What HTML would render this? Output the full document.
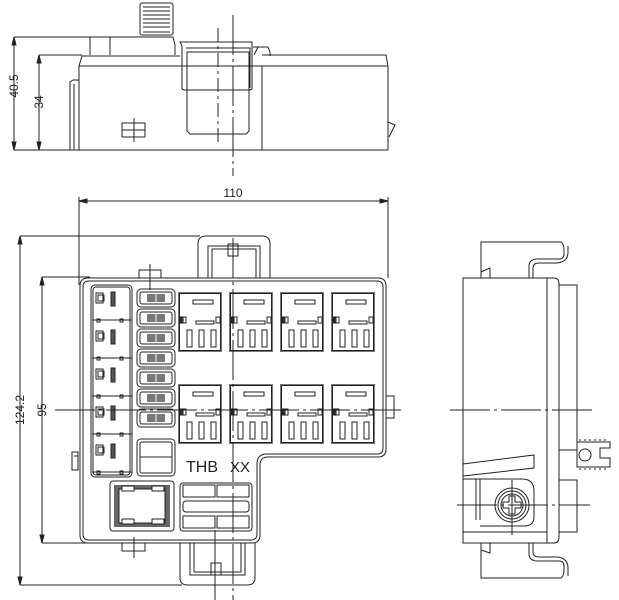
<!DOCTYPE html>
<html><head><meta charset="utf-8"><style>
html,body{margin:0;padding:0;background:#fff;width:619px;height:600px;overflow:hidden}
svg{display:block}
text{font-family:"Liberation Sans Narrow","Liberation Sans",sans-serif;fill:#222}
</style></head><body>
<svg width="619" height="600" viewBox="0 0 619 600" xmlns="http://www.w3.org/2000/svg">
<defs>
<g id="relay" fill="none" stroke="#222" stroke-width="1">
 <rect x="0" y="0" width="44" height="60" fill="#777" stroke="none"/>
 <rect x="1.5" y="1.5" width="41" height="57" fill="#fff"/>
 <rect x="15" y="8" width="20" height="4"/>
 <rect x="18" y="29" width="18" height="3"/>
 <rect x="2" y="25" width="6" height="6"/><rect x="3" y="26" width="2" height="4" fill="#444"/>
 <rect x="38" y="25" width="4" height="6"/>
 <rect x="9" y="38" width="5" height="17"/>
 <rect x="21" y="38" width="5" height="17"/>
 <rect x="33" y="38" width="5" height="17"/>
</g>
<g id="fuse" fill="none" stroke="#222" stroke-width="1">
 <rect x="0" y="0" width="38" height="18" rx="4"/>
 <rect x="3" y="3" width="32" height="12" rx="2"/>
 <rect x="10" y="5" width="18" height="8" fill="#777" stroke="none"/>
 <line x1="19" y1="4" x2="19" y2="14" stroke="#fff"/>
</g>
<g id="cell" fill="none" stroke="#222" stroke-width="1">
 <rect x="4" y="6" width="7" height="10"/><rect x="6" y="8" width="6" height="6"/>
 <rect x="19" y="5" width="4" height="14" fill="#555"/>
 <line x1="0" y1="33" x2="40" y2="33"/>
 <rect x="5" y="32" width="3" height="3"/><rect x="28" y="32" width="3" height="3"/>
</g>
</defs>
<g fill="none" stroke="#222" stroke-width="1">
<line x1="14" y1="37" x2="140" y2="37"/>
<line x1="14" y1="37" x2="14" y2="150"/>
<line x1="39" y1="55" x2="82" y2="55"/>
<line x1="39" y1="55" x2="39" y2="150"/>
<line x1="14" y1="150" x2="388" y2="150"/>
<path d="M14,37 l-2,8 h4 z M14,150 l-2,-8 h4 z M39,55 l-2,8 h4 z M39,150 l-2,-8 h4 z" fill="#222"/>
<path d="M79,150 V66 L82,56 H180"/>
<path d="M262,55 H386 L388,66 V150"/>
<line x1="79" y1="66" x2="388" y2="66"/>
<path d="M70,150 V82 L73,80 H79"/><line x1="74" y1="84" x2="74" y2="150"/>
<line x1="262" y1="66" x2="262" y2="150"/>
<path d="M90,55 V37 H173 L175,45 V55"/>
<line x1="110" y1="37" x2="110" y2="55"/>
<rect x="140" y="3" width="33" height="32" rx="2"/>
<line x1="143" y1="7" x2="170" y2="7"/><line x1="143" y1="11" x2="170" y2="11"/><line x1="143" y1="15" x2="170" y2="15"/><line x1="143" y1="19" x2="170" y2="19"/><line x1="143" y1="23" x2="170" y2="23"/><line x1="143" y1="27" x2="170" y2="27"/><line x1="143" y1="32" x2="170" y2="32"/>
<path d="M182,89 V46 L180,42 H252 V89 L250,90 H184 Z"/>
<path d="M186,48 H250 V88"/>
<path d="M187,52 V131 L190,134 H246 L249,131 V52 Z"/>
<path d="M253,47 H268 L270,52 V56 M258,47 L254,55"/>
<path d="M388,122 L395,125 L389,137"/>
<rect x="122" y="123" width="23" height="14"/>
<line x1="122" y1="130" x2="145" y2="130"/>
<line x1="134" y1="118" x2="134" y2="142"/>
<line x1="218" y1="28" x2="218" y2="145" stroke-dasharray="14,4,3,4"/>
<line x1="233" y1="15" x2="233" y2="176" stroke-dasharray="40,4,3,4"/>
<line x1="79" y1="201" x2="388" y2="201"/>
<line x1="79" y1="197" x2="79" y2="285"/>
<line x1="388" y1="197" x2="388" y2="278"/>
<path d="M79,201 l8,-2 v4 z M388,201 l-8,-2 v4 z" fill="#222"/>
<line x1="20" y1="236" x2="20" y2="585"/>
<line x1="20" y1="236" x2="200" y2="236"/>
<line x1="20" y1="585" x2="182" y2="585"/>
<line x1="42" y1="277" x2="42" y2="543"/>
<line x1="42" y1="277" x2="90" y2="277"/>
<line x1="42" y1="543" x2="90" y2="543"/>
<path d="M20,236 l-2,8 h4 z M20,585 l-2,-8 h4 z M42,277 l-2,8 h4 z M42,543 l-2,-8 h4 z" fill="#222"/>
<path d="M198,278 V244 Q198,236 206,236 H262 Q270,236 270,244 V278"/>
<path d="M208,278 V246 H260 V278 M212,278 V249 H256 V278"/>
<rect x="228" y="244" width="10" height="12"/>
<path d="M180,543 V578 Q180,585 188,585 H247 Q255,585 255,578 V543"/>
<path d="M190,543 V575 H245 V543 M194,543 V572 H241 V543"/>
<rect x="211" y="563" width="10" height="12"/>
<rect x="139" y="270" width="22" height="8"/>
<rect x="122" y="543" width="23" height="8"/>
<rect x="386" y="396" width="8" height="22"/>
<path d="M72,452 H78 V470 H72 Z M74,456 H78"/>
<path d="M88,278 H378 Q386,278 386,286 V449 Q386,457 378,457 H268 Q260,457 260,465 V535 Q260,543 252,543 H88 Q80,543 80,535 V286 Q80,278 88,278 Z"/>
<path d="M89,281 H377 Q383,281 383,287 V448 Q383,454 377,454 H267 Q257,454 257,464 V534 Q257,540 251,540 H89 Q83,540 83,534 V287 Q83,281 89,281 Z"/>
<rect x="91" y="285" width="41" height="192" rx="4"/>
<rect x="93" y="287" width="37" height="188" rx="3"/>
<use href="#cell" x="92" y="287"/>
<use href="#cell" x="92" y="325"/>
<use href="#cell" x="92" y="363"/>
<use href="#cell" x="92" y="401"/>
<use href="#cell" x="92" y="439"/>
<use href="#fuse" x="137" y="289"/>
<use href="#fuse" x="137" y="309"/>
<use href="#fuse" x="137" y="329"/>
<use href="#fuse" x="137" y="349"/>
<use href="#fuse" x="137" y="369"/>
<use href="#fuse" x="137" y="389"/>
<use href="#fuse" x="137" y="409"/>
<rect x="137" y="439" width="38" height="37" rx="4"/>
<rect x="140" y="442" width="32" height="31" rx="2"/>
<line x1="140" y1="457" x2="172" y2="457"/>
<use href="#relay" x="178" y="292"/>
<use href="#relay" x="229" y="292"/>
<use href="#relay" x="280" y="292"/>
<use href="#relay" x="331" y="292"/>
<use href="#relay" x="178" y="384"/>
<use href="#relay" x="229" y="384"/>
<use href="#relay" x="280" y="384"/>
<use href="#relay" x="331" y="384"/>
<rect x="110" y="481" width="64" height="50" rx="3"/>
<rect x="114" y="485" width="56" height="42" fill="#666" stroke="none"/>
<rect x="119" y="489" width="46" height="34" fill="#fff"/>
<rect x="122" y="486" width="12" height="5" fill="#fff"/><rect x="152" y="486" width="12" height="5" fill="#fff"/>
<rect x="122" y="519" width="12" height="5" fill="#fff"/><rect x="152" y="519" width="12" height="5" fill="#fff"/>
<rect x="180" y="483" width="72" height="48" rx="3"/>
<rect x="183" y="485" width="32" height="12"/><rect x="217" y="485" width="32" height="12"/>
<rect x="183" y="501" width="66" height="11" rx="3"/>
<rect x="183" y="516" width="32" height="12"/><rect x="217" y="516" width="32" height="12"/>
<line x1="215" y1="530" x2="215" y2="600"/>
<line x1="55" y1="410" x2="405" y2="410" stroke-dasharray="40,4,3,4"/>
<line x1="233" y1="238" x2="233" y2="600" stroke-dasharray="40,4,3,4"/>
<line x1="150" y1="264" x2="150" y2="290"/>
<line x1="134" y1="537" x2="134" y2="558"/>
<rect x="463" y="278" width="84" height="265"/>
<path d="M547,278 H554 Q559,278 559,284 V537 Q559,543 554,543 H547"/>
<rect x="559" y="285" width="18" height="165"/>
<rect x="559" y="480" width="18" height="52"/>
<path d="M481,278 V272 L490,268 V278 M481,272 V242 H561 Q564,244 564,250 V254 Q564,259 559,259 H536 Q529,260 529,266 V278 M533,278 V268 Q533,263 539,263 H557 Q568,262 568,252 V246"/>
<path d="M481,543 V550 L490,553 V543 M481,550 V578 H561 Q564,576 564,570 V566 Q564,561 559,561 H536 Q529,560 529,554 V543 M533,543 V552 Q533,557 539,557 H557 Q568,558 568,568 V576"/>
<path d="M463,464 L534,455 V468 L463,476"/>
<path d="M463,479 H480 V520 M476,479 V520"/>
<path d="M480,479 H522 Q534,479 534,491 V517 Q534,526 524,526 H480"/>
<path d="M463,543 V532 H547"/>
<circle cx="512" cy="505" r="17"/><circle cx="512" cy="505" r="14"/><circle cx="512" cy="505" r="11"/>
<path d="M509,496 H515 V502 H521 V508 H515 V514 H509 V508 H503 V502 H509 Z"/>
<path d="M577,442 H610 V448 H600 V458 H610 V467 H577 Z"/>
<circle cx="585" cy="455" r="6"/>
<path d="M580,441 v-2 M585,441 v-2 M590,441 v-2 M595,441 v-2 M600,441 v-2 M605,441 v-2 M580,468 v2 M585,468 v2 M590,468 v2 M595,468 v2 M600,468 v2 M605,468 v2"/>
<line x1="450" y1="410" x2="595" y2="410" stroke-dasharray="40,4,3,4"/>
<line x1="457" y1="505" x2="590" y2="505" stroke-dasharray="40,4,3,4"/>
<line x1="512" y1="480" x2="512" y2="535"/>
</g>
<text x="233" y="197" font-size="12" text-anchor="middle">110</text>
<text transform="translate(18,86) rotate(-90)" font-size="12" text-anchor="middle">40.5</text>
<text transform="translate(43,102) rotate(-90)" font-size="12" text-anchor="middle">34</text>
<text transform="translate(24,410) rotate(-90)" font-size="12" text-anchor="middle">124.2</text>
<text transform="translate(46,410) rotate(-90)" font-size="12" text-anchor="middle">95</text>
<text x="186" y="472" font-size="16" fill="#555">THB</text>
<text x="230" y="472" font-size="15" fill="#555">XX</text>
</svg>
</body></html>
